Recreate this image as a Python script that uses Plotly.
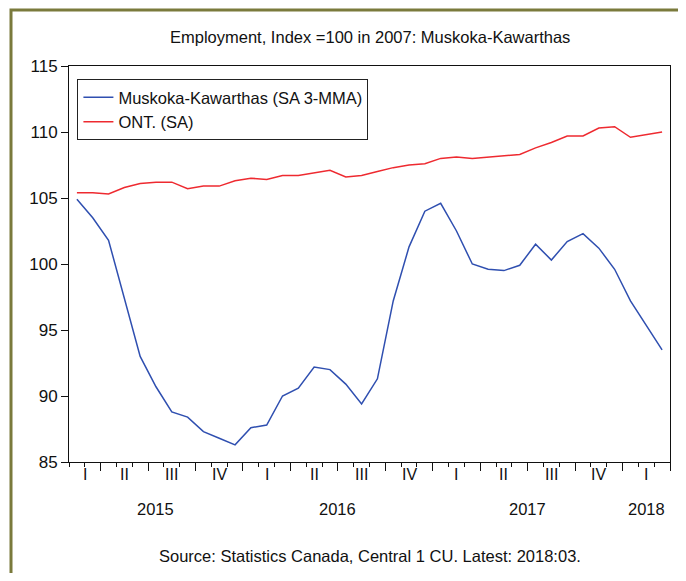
import pandas as pd
import plotly.graph_objects as go

# monthly observations, Feb 2015 - Mar 2018
months = pd.period_range("2015-02", "2018-03", freq="M")

muskoka = [104.9, 103.5, 101.8, 97.3, 93.0, 90.7, 88.8, 88.4, 87.3, 86.8,
           86.3, 87.6, 87.8, 90.0, 90.6, 92.2, 92.0, 90.9, 89.4, 91.3,
           97.2, 101.3, 104.0, 104.6, 102.5, 100.0, 99.6, 99.5, 99.9, 101.5,
           100.3, 101.7, 102.3, 101.2, 99.6, 97.2, 95.4, 93.5]
ontario = [105.4, 105.4, 105.3, 105.8, 106.1, 106.2, 106.2, 105.7, 105.9, 105.9,
           106.3, 106.5, 106.4, 106.7, 106.7, 106.9, 107.1, 106.6, 106.7, 107.0,
           107.3, 107.5, 107.6, 108.0, 108.1, 108.0, 108.1, 108.2, 108.3, 108.8,
           109.2, 109.7, 109.7, 110.3, 110.4, 109.6, 109.8, 110.0]

series_names = ["Muskoka-Kawarthas (SA 3-MMA)", "ONT. (SA)"]
roman = {1: "I", 2: "II", 3: "III", 4: "IV"}
y_ticks = [85, 90, 95, 100, 105, 110, 115]

x = list(range(len(months)))
FONT = "Arial, Liberation Sans, sans-serif"

fig = go.Figure()
fig.add_trace(go.Scatter(x=x, y=muskoka, mode="lines", name=series_names[0],
                         line=dict(color="#2f4fb0", width=1.5)))
fig.add_trace(go.Scatter(x=x, y=ontario, mode="lines", name=series_names[1],
                         line=dict(color="#ee2a30", width=1.5)))

# quarter boundaries -> major ticks, month boundaries -> minor ticks
quarters = pd.Series(x, index=months).groupby(months.asfreq("Q")).agg(["min", "max", "mean"])
years = pd.Series(x, index=months).groupby(months.year).mean()
major = [q - 0.5 for q in quarters["min"]][1:] + [len(x) - 0.5]
minor = [i - 0.5 for i in range(len(x) + 1)]

annotations = []
for q, row in quarters.iterrows():
    annotations.append(dict(x=row["mean"], y=-0.058, xref="x", yref="paper",
                            text=roman[q.quarter], showarrow=False,
                            font=dict(size=16, color="#111")))
for yr, pos in years.items():
    annotations.append(dict(x=pos, y=-0.147, xref="x", yref="paper",
                            text=str(yr), showarrow=False,
                            font=dict(size=16.5, color="#111")))
annotations.append(dict(x=0.5, y=1.101, xref="paper", yref="paper",
                        text="Employment, Index =100 in 2007: Muskoka-Kawarthas",
                        showarrow=False, font=dict(size=16.5, color="#111")))
annotations.append(dict(x=0.5, y=-0.265, xref="paper", yref="paper",
                        text="Source: Statistics Canada, Central 1 CU. Latest: 2018:03.",
                        showarrow=False, font=dict(size=16.5, color="#111")))

# the page body adds 8px on each side, so the figure is shrunk and offset
fig.update_layout(
    width=670, height=565,
    margin=dict(l=61, r=8, t=58, b=111),
    paper_bgcolor="white", plot_bgcolor="white",
    font=dict(family=FONT, size=16, color="#111"),
    showlegend=True,
    legend=dict(x=0.014, y=0.967, xanchor="left", yanchor="top",
                bgcolor="white", bordercolor="#222", borderwidth=1,
                font=dict(size=16.5), tracegroupgap=0),
    annotations=annotations,
    shapes=[dict(type="rect", xref="paper", yref="paper",
                 x0=-0.0965, x1=1.2, y0=-0.6, y1=1.1414,
                 line=dict(color="#7a7a3c", width=3), layer="below")],
)
fig.update_xaxes(range=[-0.5, len(x) - 0.5], showgrid=False, zeroline=False,
                 showline=True, linecolor="#111", linewidth=1, mirror=True,
                 tickmode="array", tickvals=major, showticklabels=False,
                 ticks="outside", ticklen=8, tickcolor="#111",
                 minor=dict(tickmode="array", tickvals=minor, ticks="outside",
                            ticklen=4, tickcolor="#111", showgrid=False))
fig.update_yaxes(range=[85, 115], showgrid=False, zeroline=False,
                 showline=True, linecolor="#111", linewidth=1, mirror=True,
                 tickmode="array", tickvals=y_ticks,
                 ticks="outside", ticklen=7, tickcolor="#111",
                 tickfont=dict(size=17))

fig.write_html("out.html")
